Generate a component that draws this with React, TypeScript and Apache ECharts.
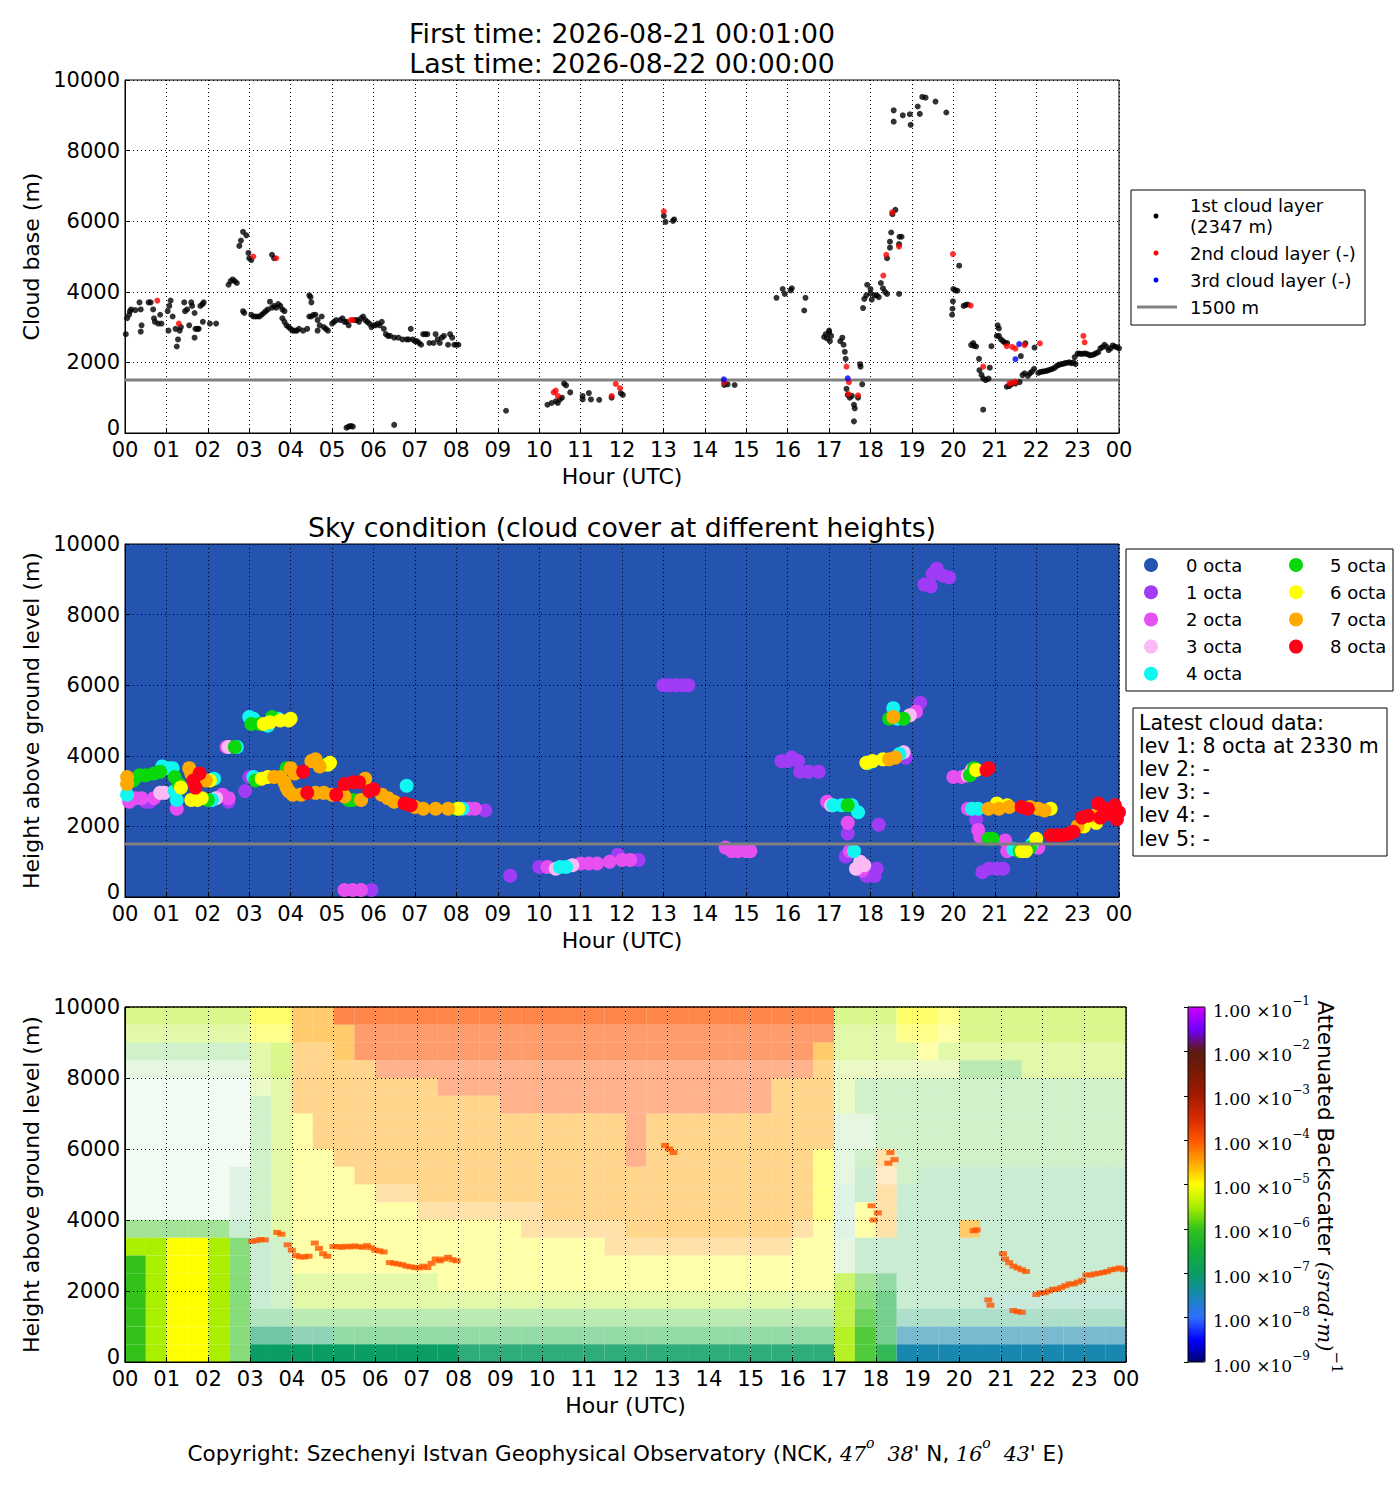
import React, { useEffect, useRef } from 'react';
import * as echarts from 'echarts';

// ---- data ----
const hourLabels = ['00', '01', '02', '03', '04', '05', '06', '07', '08', '09', '10', '11', '12',
  '13', '14', '15', '16', '17', '18', '19', '20', '21', '22', '23', '00'];

const firstTime = '2026-08-21 00:01:00';
const lastTime = '2026-08-22 00:00:00';
const thresholdHeight = 1500;
const thresholdHours = [0, 24];

const layerNames = ['1st cloud layer', '2nd cloud layer (-)', '3rd cloud layer (-)', '1500 m'];
const layerNote = '(2347 m)';
const layerColors = ['#000000', '#ff0000', '#0000ff'];

// 1st cloud layer [hour, m]
const layer1: [number, number][] = [
  [0.02, 2800], [0.05, 3250], [0.1, 3350], [0.12, 3450], [0.15, 3500], [0.25, 3480], [0.35, 3700], [0.38, 3500], [0.38, 2870], [0.4, 3050],
  [0.57, 3700], [0.62, 3700], [0.68, 3500], [0.7, 3250], [0.72, 3150], [0.8, 3100], [0.85, 3350], [0.88, 3100],
  [1.03, 3450], [1.07, 3600], [1.1, 3750], [1.15, 3300], [1.05, 2900], [1.22, 2950], [1.25, 2450], [1.28, 2650], [1.32, 2900], [1.35, 3000],
  [1.43, 3700], [1.45, 3450], [1.5, 3500], [1.55, 3050], [1.6, 3700], [1.62, 3600], [1.68, 3400], [1.68, 2700], [1.7, 2950], [1.75, 2950], [1.78, 2950],
  [1.82, 3600], [1.87, 3650], [1.9, 3700], [1.88, 3150], [2.05, 3100], [2.2, 3100],
  [2.5, 4200], [2.55, 4300], [2.6, 4350], [2.65, 4300], [2.7, 4250], [2.85, 3450], [2.88, 3400],
  [2.76, 5300], [2.8, 5450], [2.85, 5700], [2.93, 5600], [2.98, 5100], [3.0, 4950], [3.05, 4900], [3.55, 5050], [3.6, 4950],
  [3.05, 3350], [3.1, 3300], [3.15, 3300], [3.2, 3300], [3.25, 3300], [3.3, 3350], [3.35, 3400], [3.4, 3450], [3.45, 3500], [3.5, 3720],
  [3.55, 3550], [3.6, 3600], [3.65, 3550], [3.7, 3650], [3.75, 3600], [3.8, 3500], [3.85, 3450],
  [3.8, 3250], [3.85, 3150], [3.9, 3050], [3.95, 3000], [4.0, 2950], [4.05, 2900], [4.1, 2900], [4.15, 2900], [4.2, 2950], [4.3, 2900], [4.4, 2950],
  [4.45, 3900], [4.48, 3850], [4.5, 3700], [4.45, 3300], [4.5, 3300], [4.55, 3350], [4.6, 3350], [4.65, 3200], [4.65, 2900], [4.7, 3050],
  [4.75, 3300], [4.8, 3000], [4.85, 2950], [4.9, 2900],
  [5.0, 3100], [5.05, 3150], [5.1, 3200], [5.2, 3200], [5.25, 3250], [5.3, 3150], [5.35, 3150], [5.4, 3050], [5.55, 3200], [5.6, 3200],
  [5.65, 3150], [5.7, 3250], [5.75, 3300], [5.8, 3200], [5.85, 3150], [5.9, 3100], [5.95, 3000], [6.0, 3050], [6.05, 3050], [6.1, 3100],
  [6.15, 3050], [6.2, 3150], [6.25, 2950],
  [6.3, 2800], [6.35, 2750], [6.4, 2750], [6.5, 2700], [6.6, 2700], [6.7, 2650], [6.8, 2650], [6.85, 2650], [6.9, 2950], [6.95, 2650],
  [7.0, 2600], [7.05, 2600], [7.1, 2550], [7.15, 2500], [7.2, 2800], [7.25, 2800], [7.3, 2800], [7.35, 2550], [7.45, 2550], [7.5, 2800],
  [7.55, 2650], [7.6, 2550], [7.65, 2700], [7.7, 2750], [7.8, 2500], [7.85, 2800], [7.9, 2700], [7.95, 2500], [8.0, 2500], [8.05, 2500],
  [5.35, 150], [5.4, 180], [5.45, 200], [5.5, 180], [6.5, 230], [9.2, 630],
  [10.2, 800], [10.3, 850], [10.4, 900], [10.45, 850], [10.5, 950], [10.55, 1000], [10.6, 1400], [10.65, 1350], [10.75, 1150],
  [11.05, 1050], [11.05, 950], [11.2, 1130], [11.25, 950], [11.45, 940], [11.75, 1000], [11.97, 1130], [12.02, 1080],
  [13.01, 6150], [13.05, 5980], [13.23, 6010], [13.26, 6050],
  [14.47, 1360], [14.55, 1380], [14.72, 1360],
  [15.73, 3830], [15.88, 4080], [15.93, 3940], [16.07, 4040], [16.1, 4100], [16.43, 3830], [16.4, 3470],
  [16.88, 2720], [16.92, 2800], [16.95, 2680], [17.0, 2900], [17.02, 2600], [17.05, 2750], [17.0, 2850],
  [17.27, 2600], [17.32, 2700], [17.35, 2500], [17.38, 2300], [17.4, 2100],
  [17.42, 1250], [17.45, 1080], [17.5, 1000], [17.55, 1050], [17.6, 800], [17.62, 700], [17.6, 330], [17.7, 1000], [17.75, 1950], [17.76, 1880], [17.8, 1380],
  [17.82, 3540], [17.85, 3800], [17.9, 3900], [17.92, 4200], [18.0, 4080], [18.0, 3960], [18.03, 3780], [18.1, 3900], [18.15, 3900], [18.2, 3850],
  [18.25, 4250], [18.3, 4100], [18.35, 4000], [18.4, 3940],
  [18.4, 4950], [18.47, 5250], [18.47, 5420], [18.5, 5680], [18.53, 6200], [18.6, 6320], [18.69, 5350], [18.7, 5560], [18.75, 5560], [18.69, 3940],
  [18.56, 9140], [18.56, 8820], [18.78, 9000], [18.95, 9030], [18.97, 8730], [19.14, 9250], [19.19, 9040], [19.25, 9520], [19.33, 9500], [19.57, 9390], [19.83, 9080],
  [20.14, 4740], [20.0, 4080], [20.05, 4040], [20.1, 4030], [19.99, 3730], [19.98, 3520], [19.97, 3350],
  [20.25, 3600], [20.3, 3630], [20.35, 3640],
  [20.43, 2490], [20.5, 2470], [20.55, 2450], [20.48, 2550], [20.62, 2100], [20.63, 1780], [20.68, 1650], [20.72, 1550], [20.78, 1500], [20.85, 1540],
  [20.88, 1850], [20.72, 660], [20.92, 2460],
  [21.07, 3050], [21.1, 2960], [21.05, 2750], [21.1, 2750], [21.15, 2650], [21.2, 2600], [21.25, 2550], [21.3, 2550], [21.63, 2180], [21.74, 2540], [21.96, 2420],
  [21.29, 1310], [21.35, 1330], [21.4, 1380], [21.5, 1400], [21.6, 1440], [21.67, 1640], [21.72, 1690], [21.8, 1620], [21.85, 1690], [21.9, 1740],
  [21.95, 1820], [22.05, 1700],
  [22.1, 1730], [22.15, 1740], [22.2, 1750], [22.25, 1760], [22.3, 1780], [22.35, 1800], [22.4, 1820], [22.45, 1850], [22.5, 1900], [22.55, 1930],
  [22.6, 1950], [22.65, 1960], [22.7, 1980], [22.75, 1990], [22.8, 2000], [22.85, 1980], [22.9, 2000], [22.95, 1950],
  [22.93, 2150], [23.0, 2250], [23.05, 2250], [23.1, 2240], [23.15, 2250], [23.2, 2250], [23.25, 2230], [23.3, 2200], [23.35, 2210], [23.4, 2230],
  [23.45, 2260], [23.5, 2290],
  [23.55, 2400], [23.6, 2430], [23.65, 2500], [23.7, 2440], [23.75, 2350], [23.8, 2400], [23.85, 2480], [23.9, 2450], [23.95, 2430], [24.0, 2400],
];

// 2nd cloud layer
const layer2: [number, number][] = [
  [0.78, 3750], [1.3, 3100], [3.1, 5000], [3.65, 4950], [5.45, 3200], [5.5, 3200],
  [10.35, 1150], [10.4, 1200], [10.45, 1050], [11.75, 1050], [11.85, 1390], [11.95, 1270],
  [13.01, 6280], [14.46, 1430], [17.42, 1880], [17.47, 1100], [17.48, 1440], [17.7, 1070],
  [18.31, 4460], [18.38, 5050], [18.52, 6250], [18.69, 5280], [19.99, 5070], [20.42, 3610], [20.72, 1880],
  [21.29, 2460], [21.42, 2440], [21.5, 2390], [21.72, 2490], [22.09, 2540], [21.35, 1400], [21.42, 1420], [21.5, 1450],
  [23.14, 2750], [23.17, 2570],
];

// 3rd cloud layer
const layer3: [number, number][] = [
  [14.46, 1520], [17.45, 1550], [21.5, 2090], [21.59, 2520],
];

const octaLabels = ['0 octa', '1 octa', '2 octa', '3 octa', '4 octa', '5 octa', '6 octa', '7 octa', '8 octa'];
const octaColors = ['#2553b0', '#a03cf5', '#e64ff2', '#fbbaf6', '#12f6f2', '#0bd80b', '#ffff00', '#ffaa00', '#ff0019'];

// sky condition [hour, m, octa]
const skyPoints: [number, number, number][] = [
  [0.05, 3400, 7], [0.05, 3200, 7], [0.05, 2900, 4], [0.1, 2700, 2], [0.2, 3300, 5], [0.35, 3450, 5], [0.5, 3450, 5], [0.7, 3500, 5],
  [0.85, 3550, 5], [0.9, 3700, 4], [1.05, 3650, 4], [1.15, 3650, 4], [1.2, 3400, 5], [1.2, 3000, 4], [1.25, 2750, 4], [1.25, 2500, 2],
  [0.25, 2800, 2], [0.4, 2800, 2], [0.5, 2700, 1], [0.6, 2700, 1], [0.7, 2800, 2], [0.85, 2950, 3], [0.95, 2950, 3],
  [1.3, 3200, 5], [1.35, 3100, 6], [1.55, 3650, 7], [1.6, 3500, 7], [1.65, 3300, 8], [1.8, 3500, 8], [1.7, 3100, 8], [1.95, 3300, 7],
  [1.6, 2750, 6], [1.75, 2750, 6], [1.85, 2800, 6], [2.0, 2750, 5], [2.1, 2750, 4], [2.15, 3350, 4], [2.05, 3300, 6], [2.2, 2800, 3],
  [2.35, 2900, 2], [2.5, 2800, 2], [2.5, 2700, 1],
  [2.45, 4250, 2], [2.5, 4250, 3], [2.7, 4250, 4], [2.65, 4250, 5],
  [3.0, 5100, 4], [3.1, 5050, 4], [3.05, 4900, 5], [3.25, 4900, 5], [3.35, 4900, 6], [3.45, 4850, 4], [3.5, 4950, 6], [3.55, 5100, 5],
  [3.7, 5050, 4], [3.75, 5000, 6], [3.95, 5000, 6], [4.0, 5050, 6],
  [2.9, 3000, 1], [3.0, 3400, 1], [3.1, 3400, 4], [3.15, 3300, 5], [3.3, 3350, 6], [3.45, 3400, 6], [3.6, 3400, 7], [3.75, 3400, 7],
  [3.85, 3250, 7], [3.9, 3100, 7], [3.95, 3000, 7], [4.05, 2900, 7], [3.9, 3650, 5], [4.0, 3650, 7], [4.1, 3500, 7], [4.3, 3550, 8],
  [4.5, 3850, 7], [4.6, 3900, 7], [4.7, 3700, 7], [4.85, 3750, 5], [4.9, 3750, 6], [4.95, 3800, 6],
  [4.25, 2900, 7], [4.4, 2950, 8], [4.6, 2950, 7], [4.8, 2950, 7], [5.0, 2900, 7], [5.1, 2900, 8], [5.3, 2850, 7], [5.4, 2750, 5],
  [5.5, 2750, 5], [5.7, 2750, 7], [5.3, 3200, 8], [5.5, 3250, 8], [5.65, 3250, 8], [5.8, 3350, 7], [5.9, 3000, 8], [6.0, 3050, 8],
  [6.2, 2900, 7], [6.35, 2800, 7], [6.5, 2700, 7], [6.75, 2650, 8], [6.9, 2600, 8], [7.0, 2550, 7], [7.2, 2500, 7], [7.5, 2500, 7],
  [7.8, 2500, 7], [8.0, 2500, 5], [8.05, 2500, 6], [8.15, 2500, 4], [8.3, 2500, 2], [8.45, 2500, 2], [8.7, 2450, 1], [6.8, 3150, 4],
  [5.3, 200, 2], [5.5, 200, 2], [5.7, 200, 2], [5.95, 200, 1],
  [9.3, 600, 1],
  [10.0, 850, 1], [10.2, 850, 2], [10.4, 800, 3], [10.5, 850, 4], [10.65, 850, 4], [10.8, 900, 3], [11.0, 950, 2], [11.2, 950, 2],
  [11.4, 950, 2], [11.7, 1000, 2], [11.9, 1200, 1], [12.0, 1050, 2], [12.2, 1050, 2], [12.4, 1050, 1],
  [13.0, 6000, 1], [13.15, 6000, 1], [13.3, 6000, 1], [13.45, 6000, 1], [13.6, 6000, 1],
  [14.5, 1400, 2], [14.65, 1300, 2], [14.8, 1300, 2], [15.0, 1300, 2], [15.1, 1300, 2],
  [15.85, 3850, 1], [16.0, 3850, 1], [16.1, 3950, 1], [16.25, 3850, 1], [16.3, 3550, 1], [16.5, 3550, 1], [16.75, 3550, 1],
  [16.95, 2700, 2], [17.05, 2600, 3], [17.1, 2600, 4], [17.3, 2600, 4], [17.45, 2600, 5], [17.55, 2600, 4], [17.7, 2400, 4],
  [17.45, 2100, 2], [17.45, 1800, 1], [17.4, 1150, 1], [17.5, 1300, 2], [17.6, 1300, 4], [17.75, 1000, 3], [17.85, 900, 3],
  [17.65, 800, 3], [17.8, 750, 2], [17.9, 600, 1], [18.1, 600, 1], [18.15, 800, 1], [18.2, 2050, 1],
  [18.55, 5350, 4], [18.45, 5050, 5], [18.65, 5050, 4], [18.55, 5100, 7], [18.8, 5050, 5], [18.95, 5150, 3], [19.1, 5250, 2], [19.2, 5500, 1],
  [17.9, 3800, 6], [17.95, 3800, 4], [18.05, 3850, 6], [18.3, 3900, 6], [18.45, 3900, 7], [18.6, 3950, 7], [18.7, 4050, 4], [18.8, 4100, 3], [18.85, 3950, 1],
  [19.3, 8850, 1], [19.45, 8800, 1], [19.5, 9150, 1], [19.6, 9300, 1], [19.75, 9100, 1], [19.9, 9050, 1],
  [20.0, 3400, 2], [20.2, 3400, 2], [20.35, 3450, 3], [20.4, 3450, 5], [20.45, 3600, 3], [20.5, 3650, 5], [20.55, 3600, 6], [20.8, 3600, 8], [20.85, 3650, 8],
  [20.35, 2500, 2], [20.45, 2500, 4], [20.6, 2500, 4], [20.85, 2500, 7], [21.05, 2650, 6], [21.1, 2500, 7], [21.3, 2600, 6], [21.35, 2550, 7],
  [21.65, 2550, 8], [21.8, 2500, 8], [21.85, 2550, 7], [22.05, 2500, 7], [22.2, 2450, 7], [22.35, 2500, 6],
  [20.55, 2200, 1], [20.6, 1900, 2], [20.65, 1700, 2],
  [20.85, 1650, 5], [20.95, 1650, 5], [21.25, 1600, 2],
  [21.3, 1300, 2], [21.45, 1350, 4], [21.6, 1300, 5], [21.65, 1300, 6], [21.75, 1300, 6], [21.85, 1400, 5], [21.9, 1500, 4], [22.05, 1400, 2], [22.0, 1650, 6],
  [20.7, 700, 1], [20.85, 800, 1], [21.05, 800, 1], [21.2, 800, 1],
  [22.35, 1750, 8], [22.5, 1750, 8], [22.65, 1750, 8], [22.8, 1800, 8], [22.9, 1850, 8], [23.0, 2000, 7], [23.15, 2000, 6], [23.1, 2250, 8],
  [23.25, 2300, 8], [23.4, 2300, 7], [23.45, 2100, 6], [23.5, 2650, 8], [23.55, 2250, 8], [23.65, 2500, 8], [23.75, 2350, 8], [23.85, 2350, 8],
  [23.95, 2200, 8], [23.9, 2600, 8], [24.0, 2400, 8],
];

const latestCloud = ['Latest cloud data:', 'lev 1: 8 octa at 2330 m', 'lev 2: -', 'lev 3: -', 'lev 4: -', 'lev 5: -'];

// backscatter colour bar, log10 exponents
const bsExponents = [-9, -8, -7, -6, -5, -4, -3, -2, -1];
const bsColors = ['#000070', '#0000ff', '#2f6fff', '#1888b0', '#0a9e64', '#12ad3a', '#33c21a', '#aaee00', '#ffff00',
  '#ffa500', '#ff5500', '#d42a00', '#a51a00', '#7a1a05', '#5a1a10', '#7000ff', '#d000ff'];

// backscatter, half-hour x 500 m cells, rows from 10000 m down to 0 m
// level: hex digit n -> log10 = -9 + n / 2 ; fill: share of the cell with signal (0-9)
const bsLevelRows = [
  '77777788 99aaaaaa aaaaaaaa aaaaaaaa aa777888 77777777',
  '77777788 999aaaaa aaaaaaaa aaaaaaaa aa777888 77777777',
  '66666677 999aaaaa aaaaaaaa aaaaaaaa a9777787 77777777',
  '66666677 9999aaaa aaaaaaaa aaaaaaaa a9777777 66677777',
  '55555577 9999999a aaaaaaaa aaaaaaa9 99766666 66666666',
  '55555567 99999999 99aaaaaa aaaaaaa9 99766666 66666666',
  '55555567 89999999 99999999 a9999999 99666666 66666666',
  '55555567 89999999 99999999 a9999999 99666666 66666666',
  '55555567 88999999 99999999 a9999999 98669666 66666666',
  '55555567 88899999 99999999 99999999 98659655 55555555',
  '55555567 88889999 99999999 99999999 98559555 55555555',
  '55555567 88888899 99999999 99999999 98589555 55555555',
  '66666567 88888888 88899999 99999999 98589555 95555555',
  '77887656 88888888 88888889 99999999 88655555 55555555',
  '67887656 88888888 88888888 88888888 88655555 55555555',
  '67887656 77777778 88888888 88888888 88765555 55555555',
  '67887656 77777777 77777777 77777777 77765555 54444444',
  '67887655 66666666 66666666 66666666 66765444 44444444',
  '67887644 44555555 55555555 55555555 55765333 33333333',
  '67887644 44444444 44444444 44444444 44765333 33333333',
];
const bsFillRows = [
  '55555566 66777777 77777777 77777777 77555665 55555555',
  '44444455 66666666 66666666 66666666 66444554 55555555',
  '33333345 55666666 66666666 66666666 66444444 44444444',
  '22222245 55555555 55555555 55555555 55333333 44444444',
  '11111134 55555555 55555555 55555555 55333333 33333333',
  '11111134 55555555 55555555 55555555 55333333 33333333',
  '11111134 45555555 55555555 55555555 55223333 33333333',
  '11111134 45555555 55555555 55555555 55223333 33333333',
  '11111134 44555555 55555555 55555555 55234333 33333333',
  '11111234 44455555 55555555 55555555 55233333 33333333',
  '11111234 44444455 55555555 55555555 55234333 33333333',
  '11111234 44444444 44445555 55555555 55244333 33333333',
  '55555334 44444444 44444444 55555555 44244333 63333333',
  '99999633 44444444 44444444 44444444 44233333 33333333',
  '99999633 44444444 44444444 44444444 44233333 33333333',
  '99999633 44444444 44444444 44444444 44655333 33333333',
  '99999633 44444444 44444444 44444444 44766333 33333333',
  '99999644 44444444 44444444 44444444 44776444 44444444',
  '99999666 55555555 55555555 55555555 55886666 66666666',
  '99999699 99999999 88888888 88888888 88888999 99999999',
];
const BIN_HOURS = 0.5;
const BIN_METRES = 500;

// strong return at the cloud base in the backscatter [hour, m]
const bsCloudLine: [number, number][] = [
  [3.05, 3400], [3.15, 3420], [3.25, 3450], [3.35, 3440], [3.65, 3650], [3.75, 3600],
  [3.9, 3300], [4.0, 3150], [4.1, 3000], [4.2, 2960], [4.3, 2960], [4.4, 2980],
  [4.55, 3350], [4.65, 3200], [4.75, 3050], [4.85, 2980],
  [5.0, 3250], [5.1, 3250], [5.2, 3230], [5.3, 3260], [5.4, 3240], [5.5, 3270], [5.6, 3250], [5.7, 3230], [5.8, 3280], [5.9, 3220],
  [6.0, 3150], [6.1, 3130], [6.2, 3100],
  [6.35, 2800], [6.45, 2780], [6.55, 2760], [6.65, 2740], [6.75, 2700], [6.85, 2680], [6.95, 2660], [7.05, 2650], [7.15, 2700],
  [7.25, 2660], [7.35, 2780], [7.45, 2900], [7.55, 2850], [7.65, 2900], [7.75, 2950], [7.85, 2880], [7.95, 2850],
  [12.95, 6100], [13.05, 6000], [13.15, 5900],
  [17.9, 4400], [17.95, 4000], [18.05, 4200], [18.3, 5600], [18.35, 5900], [18.45, 5700],
  [20.35, 3700], [20.42, 3720], [20.7, 1750], [20.75, 1600],
  [21.05, 3050], [21.1, 2900], [21.2, 2800], [21.3, 2700], [21.4, 2650], [21.5, 2600], [21.6, 2550],
  [21.3, 1450], [21.4, 1420], [21.5, 1400],
  [21.85, 1900], [21.95, 1950], [22.05, 1950], [22.15, 2000], [22.25, 2050], [22.35, 2050], [22.45, 2100], [22.55, 2150],
  [22.65, 2200], [22.75, 2200], [22.85, 2250], [22.95, 2300], [23.05, 2450], [23.15, 2450], [23.25, 2480], [23.35, 2500],
  [23.45, 2520], [23.55, 2550], [23.65, 2600], [23.75, 2620], [23.85, 2650], [23.95, 2600],
];
const bsCloudLineLevel = -4;

// ---- layout ----
const FONT = 'DejaVu Sans';
const MATH = 'DejaVu Serif';
const SKY_BG = '#2553b0';
const PANELS = [
  { left: 125, top: 80, width: 994, height: 353 },
  { left: 125, top: 544, width: 994, height: 353 },
  { left: 125, top: 1007, width: 1001, height: 355 },
];
const CBAR = { left: 1188, top: 1007, width: 17, height: 355 };

const hourAxis = (gridIndex: number, z = 0) => ({
  type: 'value', gridIndex, min: 0, max: 24, interval: 1, z,
  name: 'Hour (UTC)', nameLocation: 'middle', nameGap: 32,
  nameTextStyle: { fontFamily: FONT, fontSize: 22, color: '#000' },
  axisLine: { show: true, onZero: false, lineStyle: { color: '#000' } },
  axisTick: { show: true, inside: true, length: 5, lineStyle: { color: '#000' } },
  axisLabel: {
    formatter: (v: number) => hourLabels[v], fontFamily: FONT, fontSize: 21, color: '#000', margin: 6,
    showMinLabel: true, showMaxLabel: true,
  },
  splitLine: { show: true, lineStyle: { color: '#000', type: [1, 3], width: 1 } },
});

const heightAxis = (gridIndex: number, name: string, z = 0) => ({
  type: 'value', gridIndex, min: 0, max: 10000, interval: 2000, z,
  name, nameLocation: 'middle', nameGap: 80,
  nameTextStyle: { fontFamily: FONT, fontSize: 22, color: '#000' },
  axisLine: { show: true, onZero: false, lineStyle: { color: '#000' } },
  axisTick: { show: true, inside: true, length: 5, lineStyle: { color: '#000' } },
  axisLabel: {
    // the zero label sits a little higher so it clears the "00" hour label
    formatter: (v: number) => (v === 0 ? '{z|0}' : String(v)),
    fontFamily: FONT, fontSize: 21, color: '#000', margin: 5,
    rich: { z: { fontFamily: FONT, fontSize: 21, color: '#000', padding: [0, 0, 10, 0] } },
  },
  splitLine: { show: true, lineStyle: { color: '#000', type: [1, 3], width: 1 } },
});

function buildCells() {
  const cells: number[][] = [];
  bsLevelRows.forEach((row, r) => {
    const lv = row.replace(/ /g, '');
    const fl = bsFillRows[r].replace(/ /g, '');
    for (let c = 0; c < lv.length; c++) {
      const fill = parseInt(fl[c], 10);
      if (!fill) continue;
      cells.push([c * BIN_HOURS, (bsLevelRows.length - 1 - r) * BIN_METRES, -9 + parseInt(lv[c], 16) / 2, fill / 9]);
    }
  });
  return cells;
}

function buildOption() {
  const text = (x: number, y: number, t: string, size: number, align = 'left', extra: any = {}) => ({
    type: 'text', x, y, z: 100,
    style: { text: t, fontFamily: FONT, fontSize: size, fill: '#000', align, verticalAlign: 'middle', ...extra },
  });

  const graphic: any[] = [
    text(622, 33, `First time: ${firstTime}`, 26.7, 'center'),
    text(622, 63, `Last time: ${lastTime}`, 26.7, 'center'),
    text(622, 527, 'Sky condition (cloud cover at different heights)', 26.7, 'center'),
    // cloud layer legend
    { type: 'rect', z: 100, shape: { x: 1131, y: 190, width: 234, height: 135 }, style: { fill: '#fff', stroke: '#000', lineWidth: 1 } },
    { type: 'circle', z: 101, shape: { cx: 1156, cy: 216, r: 2.5 }, style: { fill: layerColors[0] } },
    text(1190, 205, layerNames[0], 18),
    text(1190, 226, layerNote, 18),
    { type: 'circle', z: 101, shape: { cx: 1156, cy: 253, r: 2.5 }, style: { fill: layerColors[1] } },
    text(1190, 253, layerNames[1], 18),
    { type: 'circle', z: 101, shape: { cx: 1156, cy: 280, r: 2.5 }, style: { fill: layerColors[2] } },
    text(1190, 280, layerNames[2], 18),
    { type: 'line', z: 101, shape: { x1: 1137, y1: 307, x2: 1177, y2: 307 }, style: { stroke: '#808080', lineWidth: 3 } },
    text(1190, 307, layerNames[3], 18),
    // octa legend
    { type: 'rect', z: 100, shape: { x: 1126, y: 549, width: 267, height: 142 }, style: { fill: '#fff', stroke: '#000', lineWidth: 1 } },
    // latest data box
    { type: 'rect', z: 100, shape: { x: 1133, y: 708, width: 254, height: 148 }, style: { fill: '#fff', stroke: '#000', lineWidth: 1 } },
    // frames over the backscatter panel and colour bar
    { type: 'rect', z: 100, shape: { x: PANELS[2].left, y: PANELS[2].top, width: PANELS[2].width, height: PANELS[2].height }, style: { fill: 'none', stroke: '#000', lineWidth: 1 } },
    { type: 'rect', z: 100, shape: { x: CBAR.left, y: CBAR.top, width: CBAR.width, height: CBAR.height }, style: { fill: 'none', stroke: '#000', lineWidth: 1 } },
    // colour bar title
    {
      type: 'text', x: 1329, y: 1187, rotation: -Math.PI / 2, z: 100,
      style: {
        text: '{a|Attenuated Backscatter }{b|(srad·m)}{c|−1}',
        align: 'center', verticalAlign: 'middle',
        rich: {
          a: { fontFamily: FONT, fontSize: 21.5, fill: '#000', lineHeight: 30, verticalAlign: 'bottom' },
          b: { fontFamily: MATH, fontStyle: 'italic', fontSize: 21, fill: '#000', lineHeight: 30, verticalAlign: 'bottom' },
          c: { fontFamily: MATH, fontSize: 15, fill: '#000', lineHeight: 15, verticalAlign: 'top' },
        },
      },
    },
    // copyright
    {
      type: 'text', x: 626, y: 1450, z: 100,
      style: {
        text: "{t|Copyright: Szechenyi Istvan Geophysical Observatory (NCK, }{m|47}{s|o}{m|  38}{t|' N, }{m|16}{s|o}{m|  43}{t|' E)}",
        align: 'center', verticalAlign: 'middle',
        rich: {
          t: { fontFamily: FONT, fontSize: 21.5, fill: '#000', lineHeight: 28, verticalAlign: 'bottom' },
          m: { fontFamily: MATH, fontStyle: 'italic', fontSize: 20.5, fill: '#000', lineHeight: 28, verticalAlign: 'bottom' },
          s: { fontFamily: MATH, fontStyle: 'italic', fontSize: 14, fill: '#000', lineHeight: 14, verticalAlign: 'top' },
        },
      },
    },
  ];

  octaLabels.forEach((label, i) => {
    const col = i < 5 ? 0 : 1;
    const row = i < 5 ? i : i - 5;
    const y = 565 + row * 27.2;
    graphic.push({ type: 'circle', z: 101, shape: { cx: col ? 1296 : 1151, cy: y, r: 7 }, style: { fill: octaColors[i] } });
    graphic.push(text(col ? 1330 : 1186, y, label, 18));
  });
  latestCloud.forEach((line, i) => {
    graphic.push(text(1139, 723 + i * 23.1, line, 20.5));
  });

  const octaSeries = octaLabels.map((name, k) => ({
    type: 'scatter', name, xAxisIndex: 1, yAxisIndex: 1,
    symbol: 'circle', symbolSize: 14,
    itemStyle: { color: octaColors[k], opacity: 1 },
    data: skyPoints.filter((p) => p[2] === k).map((p) => [p[0], p[1]]),
    silent: true,
  }));

  const threshold = (axis: number, z: number) => ({
    type: 'line', name: layerNames[3], xAxisIndex: axis, yAxisIndex: axis, z,
    data: thresholdHours.map((h) => [h, thresholdHeight]),
    symbol: 'none', lineStyle: { color: '#808080', width: 3 }, silent: true,
  });

  return {
    animation: false,
    backgroundColor: '#fff',
    textStyle: { fontFamily: FONT },
    grid: [
      ...PANELS.map((p, i) => ({
        ...p, show: true, borderColor: '#000', borderWidth: 1,
        backgroundColor: i === 1 ? SKY_BG : 'transparent',
      })),
      { ...CBAR, show: false },
    ],
    xAxis: [
      hourAxis(0), hourAxis(1), hourAxis(2, 5),
      { type: 'value', gridIndex: 3, min: 0, max: 1, show: false },
    ],
    yAxis: [
      heightAxis(0, 'Cloud base (m)'),
      heightAxis(1, 'Height above ground level (m)'),
      heightAxis(2, 'Height above ground level (m)', 5),
      {
        type: 'value', gridIndex: 3, min: bsExponents[0], max: bsExponents[bsExponents.length - 1], interval: 1, position: 'right',
        axisLine: { show: true, lineStyle: { color: '#000' } },
        axisTick: { show: true, inside: true, length: 4, lineStyle: { color: '#000' } },
        splitLine: { show: false },
        axisLabel: {
          margin: 8,
          formatter: (v: number) => `{m|1.00 ×10}{e|${v < 0 ? '−' + -v : v}}`,
          rich: {
            m: { fontFamily: MATH, fontSize: 17, color: '#000', lineHeight: 24, verticalAlign: 'bottom' },
            e: { fontFamily: MATH, fontSize: 12, color: '#000', lineHeight: 12, verticalAlign: 'top' },
          },
        },
      },
    ],
    visualMap: {
      type: 'continuous', min: bsExponents[0], max: bsExponents[bsExponents.length - 1], dimension: 2, seriesIndex: [14, 15],
      inRange: { color: bsColors },
      left: CBAR.left, top: CBAR.top, itemWidth: CBAR.width, itemHeight: CBAR.height,
      padding: 0, calculable: false, hoverLink: false, orient: 'vertical', show: true,
    },
    series: [
      {
        type: 'scatter', name: layerNames[0], xAxisIndex: 0, yAxisIndex: 0, symbolSize: 6,
        itemStyle: { color: layerColors[0] }, data: layer1, silent: true, z: 3,
      },
      {
        type: 'scatter', name: layerNames[1], xAxisIndex: 0, yAxisIndex: 0, symbolSize: 6,
        itemStyle: { color: layerColors[1] }, data: layer2, silent: true, z: 4,
      },
      {
        type: 'scatter', name: layerNames[2], xAxisIndex: 0, yAxisIndex: 0, symbolSize: 6,
        itemStyle: { color: layerColors[2] }, data: layer3, silent: true, z: 5,
      },
      threshold(0, 2),
      ...octaSeries,
      threshold(1, 6),
      {
        type: 'custom', name: 'backscatter', xAxisIndex: 2, yAxisIndex: 2,
        dimensions: ['hour', 'height', 'level', 'fill'],
        encode: { x: 0, y: 1 },
        data: buildCells(),
        clip: true, silent: true,
        renderItem: (_params: any, api: any) => {
          const a = api.coord([api.value(0), api.value(1) + BIN_METRES]);
          const b = api.coord([api.value(0) + BIN_HOURS, api.value(1)]);
          return {
            type: 'rect',
            shape: { x: a[0], y: a[1], width: b[0] - a[0], height: b[1] - a[1] },
            // speckled returns look paler than their colour, so thin cells fade faster
            style: { fill: api.visual('color'), opacity: Math.pow(api.value(3), 1.35) },
          };
        },
      },
      {
        type: 'scatter', name: 'cloud base return', xAxisIndex: 2, yAxisIndex: 2,
        symbol: 'rect', symbolSize: [8, 5], silent: true, z: 3,
        data: bsCloudLine.map((p) => [p[0], p[1], bsCloudLineLevel]),
      },
    ],
    graphic,
  };
}

export default function App() {
  const chartRef = useRef<HTMLDivElement>(null);

  useEffect(() => {
    if (!chartRef.current) return;
    document.body.style.margin = '0';
    const chart = echarts.init(chartRef.current, null, { renderer: 'svg' });
    chart.setOption(buildOption() as any);
    return () => chart.dispose();
  }, []);

  return <div ref={chartRef} style={{ width: 1400, height: 1500 }} />;
}
